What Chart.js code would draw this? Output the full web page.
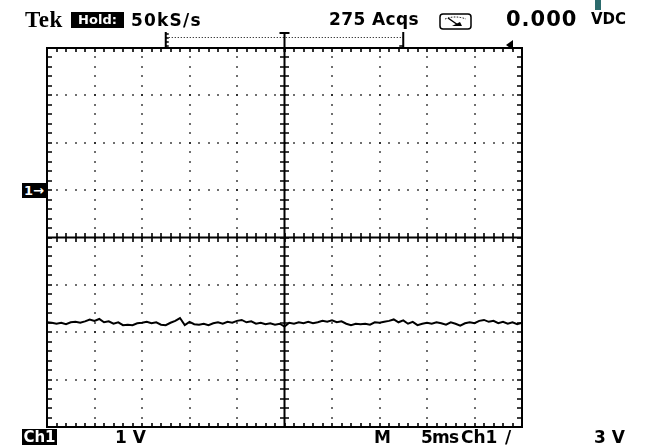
<!DOCTYPE html>
<html><head><meta charset="utf-8">
<script src="https://cdn.jsdelivr.net/npm/chart.js@4/dist/chart.umd.min.js"></script>
<style>
html,body{margin:0;padding:0;background:#fff;}
#wrap{position:relative;width:648px;height:445px;overflow:hidden;background:#fff;}
canvas{position:absolute;left:0;top:0;}
.t{position:absolute;white-space:nowrap;font-family:"DejaVu Sans",sans-serif;font-weight:bold;color:#000;line-height:1;}
.inv{background:#000;color:#fff;text-align:center;}
</style></head>
<body><div id="wrap"><canvas id="c" width="648" height="445"></canvas>
<div class="t" style="left:25px;top:8px;font-family:'Liberation Serif',serif;font-size:23px;letter-spacing:0.5px;">Tek</div>
<div class="t inv" style="left:71px;top:12px;width:53px;height:16px;font-size:13px;line-height:16px;">Hold:</div>
<div class="t" id="rate" style="left:131px;top:12px;font-size:17px;letter-spacing:1.2px;"></div>
<div class="t" id="acqs" style="left:329px;top:11px;font-size:17px;letter-spacing:0.4px;"></div>
<svg style="position:absolute;left:439px;top:13px;" width="33" height="17" viewBox="0 0 33 17">
  <rect x="1" y="1" width="31" height="15" rx="3" ry="3" fill="none" stroke="#000" stroke-width="1.5"/>
  <path d="M6 6 Q16 2 27 6" fill="none" stroke="#000" stroke-width="1" stroke-dasharray="1.5 1.5"/>
  <line x1="9" y1="5" x2="19" y2="12" stroke="#000" stroke-width="1.5"/>
  <path d="M13 13 L23 13 L21 9 Z" fill="#000"/>
</svg>
<div class="t" id="reading" style="left:506px;top:9px;font-size:21px;letter-spacing:1px;"></div>
<div class="t" id="unit" style="left:591px;top:12px;font-size:15px;"></div>
<div style="position:absolute;left:595px;top:0;width:6px;height:10px;background:#2c6b6d;"></div>
<div class="t inv" id="gnd" style="left:22px;top:183px;width:24px;height:15px;font-size:13px;line-height:15px;"></div>
<div class="t inv" id="ch" style="left:22px;top:429px;width:35px;height:16px;font-size:15px;line-height:16px;"></div>
<div class="t" id="vdiv" style="left:115px;top:429px;font-size:17px;"></div>
<div class="t" id="mlab" style="left:374px;top:429px;font-size:17px;"></div>
<div class="t" id="tdiv" style="left:421px;top:429px;font-size:17px;letter-spacing:-0.8px;"></div>
<div class="t" id="tsrc" style="left:461px;top:429px;font-size:17px;"></div>
<div class="t" id="slope" style="left:505px;top:429px;font-size:17px;"></div>
<div class="t" id="tlev" style="left:594px;top:429px;font-size:17px;"></div>
</div>
<script>
const sampleStartMs = -25;
const sampleStepMs = 0.5;
const traceVolts = [
  -2.79,-2.80,-2.82,-2.80,-2.83,-2.79,-2.78,-2.80,-2.77,-2.73,
  -2.76,-2.72,-2.79,-2.77,-2.82,-2.79,-2.85,-2.84,-2.85,-2.81,
  -2.80,-2.78,-2.81,-2.79,-2.84,-2.85,-2.80,-2.76,-2.70,-2.85,
  -2.78,-2.83,-2.84,-2.82,-2.85,-2.81,-2.79,-2.82,-2.78,-2.80,
  -2.76,-2.74,-2.79,-2.77,-2.82,-2.80,-2.83,-2.81,-2.84,-2.82,
  -2.88,-2.80,-2.82,-2.79,-2.81,-2.78,-2.81,-2.79,-2.76,-2.78,
  -2.75,-2.79,-2.77,-2.82,-2.85,-2.82,-2.83,-2.82,-2.84,-2.79,
  -2.80,-2.78,-2.76,-2.73,-2.79,-2.75,-2.82,-2.78,-2.85,-2.82,
  -2.80,-2.82,-2.79,-2.81,-2.84,-2.79,-2.82,-2.86,-2.81,-2.79,
  -2.81,-2.76,-2.74,-2.78,-2.76,-2.81,-2.78,-2.82,-2.79,-2.83,
  -2.80
];
// axis setup: 10 divisions x 5 ms, 8 divisions x 1 V, ground 1 div above centre
const timeRange = [-25, 25];
const timeMajor = 5, timeMinorCount = 5;
const voltRange = [-5, 3];
const voltMajor = 1, voltMinorCount = 5;
const groundVolts = 0;
const triggerLevelVolts = 3;
const recordWindowMs = [-12.5, 12.5];
const triggerTimeMs = 0;
// readout texts
const headerTexts = {rate:'50kS/s', acqs:'275 Acqs', reading:'0.000', unit:'VDC'};
const footerTexts = {ch:'Ch1', vdiv:'1 V', mlab:'M', tdiv:'5ms', tsrc:'Ch1', slope:'/', tlev:'3 V', gnd:'1\u2192'};

for (const k in headerTexts) document.getElementById(k).textContent = headerTexts[k];
for (const k in footerTexts) document.getElementById(k).textContent = footerTexts[k];

const points = traceVolts.map((v, i) => ({x: sampleStartMs + i * sampleStepMs, y: v}));

const scopeDecor = {
  id: 'scopeDecor',
  beforeDatasetsDraw(chart) {
    const {ctx, chartArea: a, scales: {x, y}} = chart;
    ctx.save();
    ctx.fillStyle = '#000';
    ctx.strokeStyle = '#000';
    const xMinorStep = timeMajor / timeMinorCount;
    const yMinorStep = voltMajor / voltMinorCount;
    const nX = Math.round((timeRange[1] - timeRange[0]) / xMinorStep);
    const nY = Math.round((voltRange[1] - voltRange[0]) / yMinorStep);
    const xs = [], ys = [];
    for (let i = 0; i <= nX; i++) xs.push(x.getPixelForValue(timeRange[0] + i * xMinorStep));
    for (let j = 0; j <= nY; j++) ys.push(y.getPixelForValue(voltRange[0] + j * yMinorStep));
    const xCenterVal = (timeRange[0] + timeRange[1]) / 2;
    const yCenterVal = (voltRange[0] + voltRange[1]) / 2;
    const xc = x.getPixelForValue(xCenterVal), yc = y.getPixelForValue(yCenterVal);
    const d = 1.5;
    // dotted division lines
    for (let v = timeRange[0] + timeMajor; v < timeRange[1]; v += timeMajor) {
      if (Math.abs(v - xCenterVal) < 1e-9) continue;
      const px = Math.round(x.getPixelForValue(v));
      ys.forEach(py => ctx.fillRect(px - d/2, Math.round(py) - d/2, d, d));
    }
    for (let v = voltRange[0] + voltMajor; v < voltRange[1]; v += voltMajor) {
      if (Math.abs(v - yCenterVal) < 1e-9) continue;
      const py = Math.round(y.getPixelForValue(v));
      xs.forEach(px => ctx.fillRect(Math.round(px) - d/2, py - d/2, d, d));
    }
    // centre lines
    ctx.lineWidth = 2;
    ctx.beginPath();
    ctx.moveTo(a.left, yc); ctx.lineTo(a.right, yc);
    ctx.moveTo(xc, a.top); ctx.lineTo(xc, a.bottom);
    ctx.stroke();
    ctx.lineWidth = 1.6;
    ctx.beginPath();
    xs.forEach(px => { ctx.moveTo(Math.round(px), yc - 4.5); ctx.lineTo(Math.round(px), yc + 4.5); });
    ys.forEach(py => { ctx.moveTo(xc - 4.5, Math.round(py)); ctx.lineTo(xc + 4.5, Math.round(py)); });
    // border ticks pointing inward
    xs.forEach(px => {
      ctx.moveTo(Math.round(px), a.top); ctx.lineTo(Math.round(px), a.top + 4);
      ctx.moveTo(Math.round(px), a.bottom); ctx.lineTo(Math.round(px), a.bottom - 4);
    });
    ys.forEach(py => {
      ctx.moveTo(a.left, Math.round(py)); ctx.lineTo(a.left + 5, Math.round(py));
      ctx.moveTo(a.right, Math.round(py)); ctx.lineTo(a.right - 5, Math.round(py));
    });
    ctx.stroke();
    // border
    ctx.lineWidth = 2;
    ctx.strokeRect(a.left, a.top, a.right - a.left, a.bottom - a.top);
    // record bar above the graticule
    const rb = a.top - 11;
    const x0 = x.getPixelForValue(recordWindowMs[0]);
    const x1 = x.getPixelForValue(recordWindowMs[1]);
    const xt = x.getPixelForValue(triggerTimeMs);
    ctx.lineWidth = 1;
    ctx.setLineDash([1, 2]);
    ctx.beginPath(); ctx.moveTo(x0, rb + 0.5); ctx.lineTo(x1, rb + 0.5); ctx.stroke();
    ctx.setLineDash([]);
    ctx.lineWidth = 2;
    ctx.beginPath();
    ctx.moveTo(x0, a.top - 16); ctx.lineTo(x0, a.top);
    ctx.moveTo(x1, a.top - 16); ctx.lineTo(x1, a.top);
    ctx.moveTo(xt, a.top - 15); ctx.lineTo(xt, a.top + 4);
    ctx.moveTo(xt - 5, a.top - 15); ctx.lineTo(xt + 5, a.top - 15);
    ctx.stroke();
    ctx.lineWidth = 1.5;
    ctx.beginPath();
    for (let k = 0; k < 4; k++) { ctx.moveTo(x0, a.top - 14 + k * 4); ctx.lineTo(x0 + 3, a.top - 14 + k * 4); }
    ctx.moveTo(x1, a.top - 2); ctx.lineTo(x1 - 4, a.top - 2);
    ctx.stroke();
    // trigger level marker
    const ty = y.getPixelForValue(triggerLevelVolts);
    ctx.beginPath();
    ctx.moveTo(a.right - 16, ty - 3);
    ctx.lineTo(a.right - 9, ty - 8);
    ctx.lineTo(a.right - 9, ty + 2);
    ctx.closePath(); ctx.fill();
    ctx.restore();
  }
};

const chart = new Chart(document.getElementById('c'), {
  type: 'line',
  data: {datasets: [{
    data: points, borderColor: '#000', borderWidth: 2, pointRadius: 0,
    tension: 0, fill: false
  }]},
  options: {
    responsive: false, animation: false, devicePixelRatio: 1,
    layout: {padding: {left: 47, top: 48, right: 126, bottom: 18}},
    plugins: {legend: {display: false}, tooltip: {enabled: false}},
    scales: {
      x: {type: 'linear', min: timeRange[0], max: timeRange[1], display: false},
      y: {type: 'linear', min: voltRange[0], max: voltRange[1], display: false}
    }
  },
  plugins: [scopeDecor]
});
// place the ground marker at the ground level via the y scale
const gy = chart.scales.y.getPixelForValue(groundVolts);
document.getElementById('gnd').style.top = (gy - 7.5) + 'px';
</script>
</body></html>
